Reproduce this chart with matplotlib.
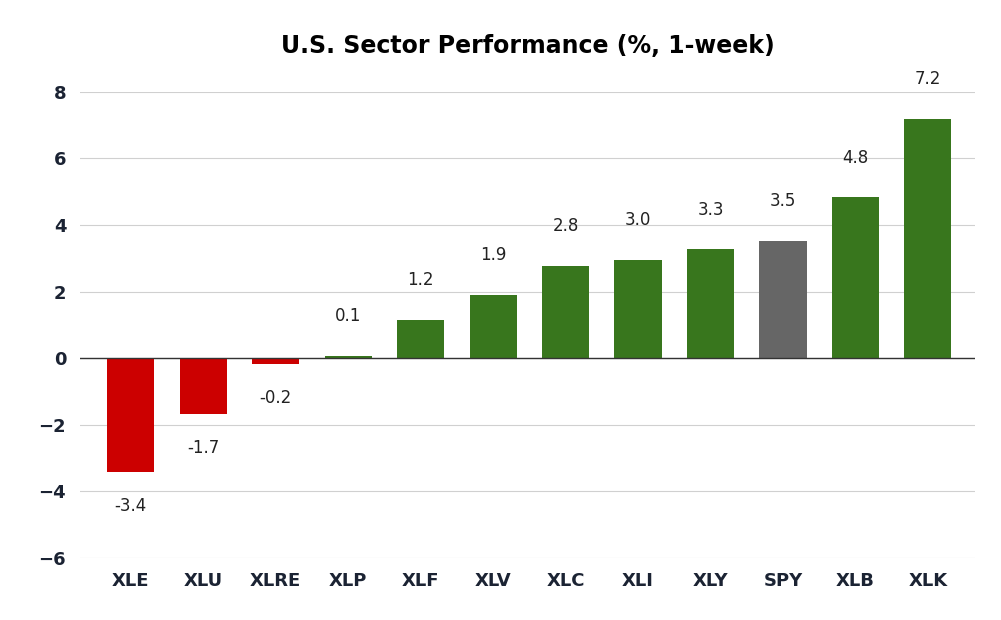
import matplotlib
matplotlib.use("Agg")
from matplotlib import pyplot as plt

tickers = ["XLE", "XLU", "XLRE", "XLP", "XLF", "XLV", "XLC", "XLI", "XLY", "SPY", "XLB", "XLK"]
values = [-3.4, -1.7, -0.2, 0.1, 1.2, 1.9, 2.8, 3.0, 3.3, 3.5, 4.8, 7.2]
plotted = [-3.43, -1.68, -0.16, 0.08, 1.16, 1.91, 2.77, 2.96, 3.27, 3.52, 4.83, 7.19]

def main():
    colors = []
    for t, v in zip(tickers, values):
        if t == "SPY":
            colors.append("#666666")
        elif v < 0:
            colors.append("#cc0000")
        else:
            colors.append("#38761d")

    fig = plt.figure(figsize=(10.01, 6.2), dpi=100)
    ax = fig.add_axes([0.08, 0.1, 0.894, 0.752])
    x = range(len(tickers))
    ax.bar(x, plotted, width=0.65, color=colors, zorder=3)
    ax.axhline(0, color="#333333", lw=1, zorder=4)

    for i, (v, p) in enumerate(zip(values, plotted)):
        if v >= 0:
            ax.annotate(f"{v:.1f}", (i, p), xytext=(0, 22), textcoords="offset points",
                        ha="center", va="bottom", fontsize=12, color="#222222")
        else:
            ax.annotate(f"{v:.1f}", (i, p), xytext=(0, -18), textcoords="offset points",
                        ha="center", va="top", fontsize=12, color="#222222")

    ax.set_ylim(-6, 8)
    ax.set_xlim(-0.7, len(tickers) - 0.35)
    ax.set_yticks(range(-6, 9, 2))
    ax.set_xticks(list(x))
    ax.set_xticklabels(tickers)
    ax.grid(axis="y", color="#d0d0d0", lw=0.8, zorder=0)
    for s in ax.spines.values():
        s.set_visible(False)
    ax.tick_params(axis="both", length=0, labelsize=13, labelcolor="#1b2333", pad=10)
    for lab in ax.get_xticklabels() + ax.get_yticklabels():
        lab.set_fontweight("bold")
    ax.set_title("U.S. Sector Performance (%, 1-week)", fontsize=17, weight="bold", pad=28)

    plt.savefig("out.png", dpi=100)

if __name__ == "__main__":
    main()
